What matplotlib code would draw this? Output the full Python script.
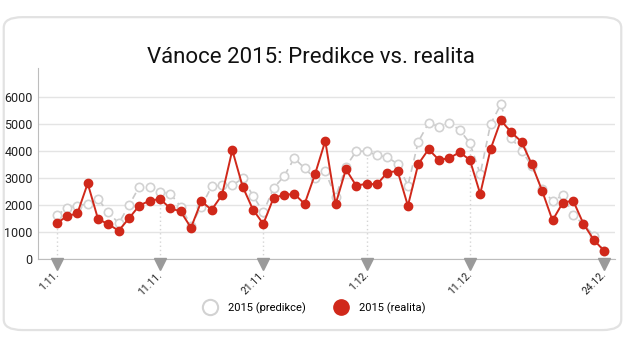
import numpy as np
import matplotlib
matplotlib.use("Agg")
import matplotlib.pyplot as plt
from matplotlib.patches import FancyBboxPatch
from matplotlib.lines import Line2D
import matplotlib.transforms as mtransforms

plt.rcParams['font.family'] = ['Roboto', 'DejaVu Sans']

# --- data (1.11. - 24.12.) ---
days = [f"{d}.11." for d in range(1, 31)] + [f"{d}.12." for d in range(1, 25)]
predikce = [1630, 1890, 1990, 2050, 2220, 1750, 1330, 2000, 2690, 2690,
            2480, 2430, 1950, 1250, 1950, 2700, 2740, 2740, 2990, 2360,
            1740, 2640, 3070, 3740, 3370, 2990, 3250, 2300, 3430, 4000,
            4000, 3850, 3780, 3530, 2730, 4350, 5040, 4910, 5040, 4790,
            4300, 3150, 5000, 5730, 4490, 4020, 3450, 2590, 2160, 2370,
            1630, 1300, 880, 300]
realita = [1330, 1600, 1700, 2810, 1490, 1300, 1060, 1520, 1990, 2170,
           2230, 1890, 1770, 1170, 2150, 1830, 2380, 4040, 2690, 1840,
           1310, 2280, 2380, 2420, 2050, 3140, 4380, 2040, 3330, 2720,
           2800, 2770, 3210, 3270, 1980, 3520, 4070, 3680, 3740, 3960,
           3680, 2420, 4070, 5140, 4700, 4350, 3510, 2530, 1440, 2100,
           2170, 1310, 720, 310]
tick_labels = ["1.11.", "11.11.", "21.11.", "1.12.", "11.12.", "24.12."]
y_ticks = [0, 1000, 2000, 3000, 4000, 5000, 6000]

RED = "#d0281a"
GRAY = "#c9c9c9"

x = np.arange(len(days))
tick_pos = [days.index(t) for t in tick_labels]

fig = plt.figure(figsize=(6.25, 3.5), dpi=100)
fig.patch.set_facecolor("white")

# zaoblený rámeček kolem grafu
box = FancyBboxPatch((0.006, 0.057), 0.988, 0.894,
                     boxstyle="round,pad=0,rounding_size=0.03",
                     transform=fig.transFigure, facecolor="white",
                     edgecolor="#e2e2e2", linewidth=1.6, zorder=-10)
fig.patches.append(box)

fig.text(0.497, 0.835, "Vánoce 2015: Predikce vs. realita", ha="center", va="center",
         fontsize=16, color="#111111")

ax = fig.add_axes([0.061, 0.259, 0.923, 0.547])
ax.set_facecolor("none")

# tečkované svislice u popisků
for p in tick_pos:
    ax.plot([p, p], [0, max(predikce[p], realita[p])], color="#d5d5d5",
            linestyle=(0, (1, 2)), linewidth=1, zorder=1)

ax.plot(x, predikce, color=GRAY, linestyle=(0, (4, 3)), linewidth=1.2,
        marker="o", markersize=6, markerfacecolor="white",
        markeredgecolor="#d2d2d2", markeredgewidth=1.2, zorder=2)
ax.plot(x, realita, color=RED, linewidth=1.4, marker="o", markersize=6,
        markerfacecolor=RED, markeredgecolor=RED, zorder=3)

ax.set_xlim(-1.8, len(days) - 1 + 1.05)
ax.set_ylim(0, 7080)
ax.set_yticks(y_ticks)
ax.set_yticklabels([str(v) for v in y_ticks], fontsize=9, color="#222222")
ax.tick_params(axis="y", length=0, pad=4)
ax.grid(axis="y", color="#e4e4e4", linewidth=1)
ax.set_axisbelow(True)

for s in ["top", "right"]:
    ax.spines[s].set_visible(False)
ax.spines["left"].set_color("#bdbdbd")
ax.spines["bottom"].set_color("#bdbdbd")

# trojúhelníčky pod osou + popisky
ax.set_xticks([])
tri_off = mtransforms.ScaledTranslation(0, -4.5 / 100, fig.dpi_scale_trans)
ax.plot(tick_pos, [0] * len(tick_pos), linestyle="none", marker="v",
        markersize=9, color="#9a9a9a", clip_on=False,
        transform=ax.get_xaxis_transform() + tri_off, zorder=4)
lab_off = mtransforms.ScaledTranslation(-3 / 100, -10 / 100, fig.dpi_scale_trans)
for p, t in zip(tick_pos, tick_labels):
    ax.text(p, 0, t, rotation=45, ha="right", va="top", fontsize=7.5,
            color="#222222", transform=ax.get_xaxis_transform() + lab_off,
            rotation_mode="anchor")

handles = [
    Line2D([], [], linestyle="none", marker="o", markersize=11,
           markerfacecolor="white", markeredgecolor="#d2d2d2", markeredgewidth=1.5),
    Line2D([], [], linestyle="none", marker="o", markersize=11,
           markerfacecolor=RED, markeredgecolor=RED),
]
fig.legend(handles, ["2015 (predikce)", "2015 (realita)"], loc="center",
           bbox_to_anchor=(0.5, 0.12), ncol=2, frameon=False, fontsize=8,
           handletextpad=0.6, columnspacing=2.2)

fig.savefig("out.png", dpi=100)
